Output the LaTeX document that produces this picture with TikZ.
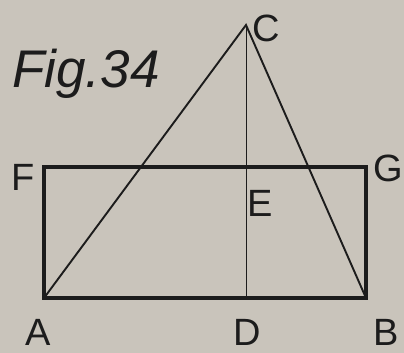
\documentclass[tikz,border=0pt]{standalone}
\usepackage{fontspec}
\setmainfont{Liberation Sans}
\definecolor{paper}{RGB}{201,196,187}
\definecolor{ink}{RGB}{28,28,28}
\tikzset{
  lbl/.style={text=ink,inner sep=0pt,font=\fontsize{38}{38}\selectfont},
  frame/.style={ink,line width=4.2pt,line join=miter},
  side/.style={ink,line width=1.9pt},
  perp/.style={ink,line width=0.9pt}
}
\begin{document}
\begin{tikzpicture}[x=1pt,y=-1pt]
\fill[paper] (0,0) rectangle (404,353);
\useasboundingbox (0,0) rectangle (404,353);

\coordinate (A) at (44,298);
\coordinate (B) at (366,298);
\coordinate (G) at (366,167);
\coordinate (F) at (44,167);
\coordinate (C) at (246,25);
\coordinate (D) at (246,298);
\coordinate (E) at (246,167);

\draw[frame] (A) -- (B) -- (G) -- (F) -- cycle;
\draw[side] (A) -- (C) -- (B);
\draw[perp] (C) -- (D);

\node[lbl] (lA) at (38,332) {A};
\node[lbl] (lB) at (386,332) {B};
\node[lbl] (lC) at (266,28) {C};
\node[lbl] (lD) at (247,332) {D};
\node[lbl] (lE) at (260,203) {E};
\node[lbl] (lF) at (23,177) {F};
\node[lbl] (lG) at (388,168) {G};
\node[text=ink,inner sep=0pt,anchor=base west,font=\fontsize{53}{53}\selectfont\itshape] (fig) at (12,88) {Fig.34};
\end{tikzpicture}
\end{document}
